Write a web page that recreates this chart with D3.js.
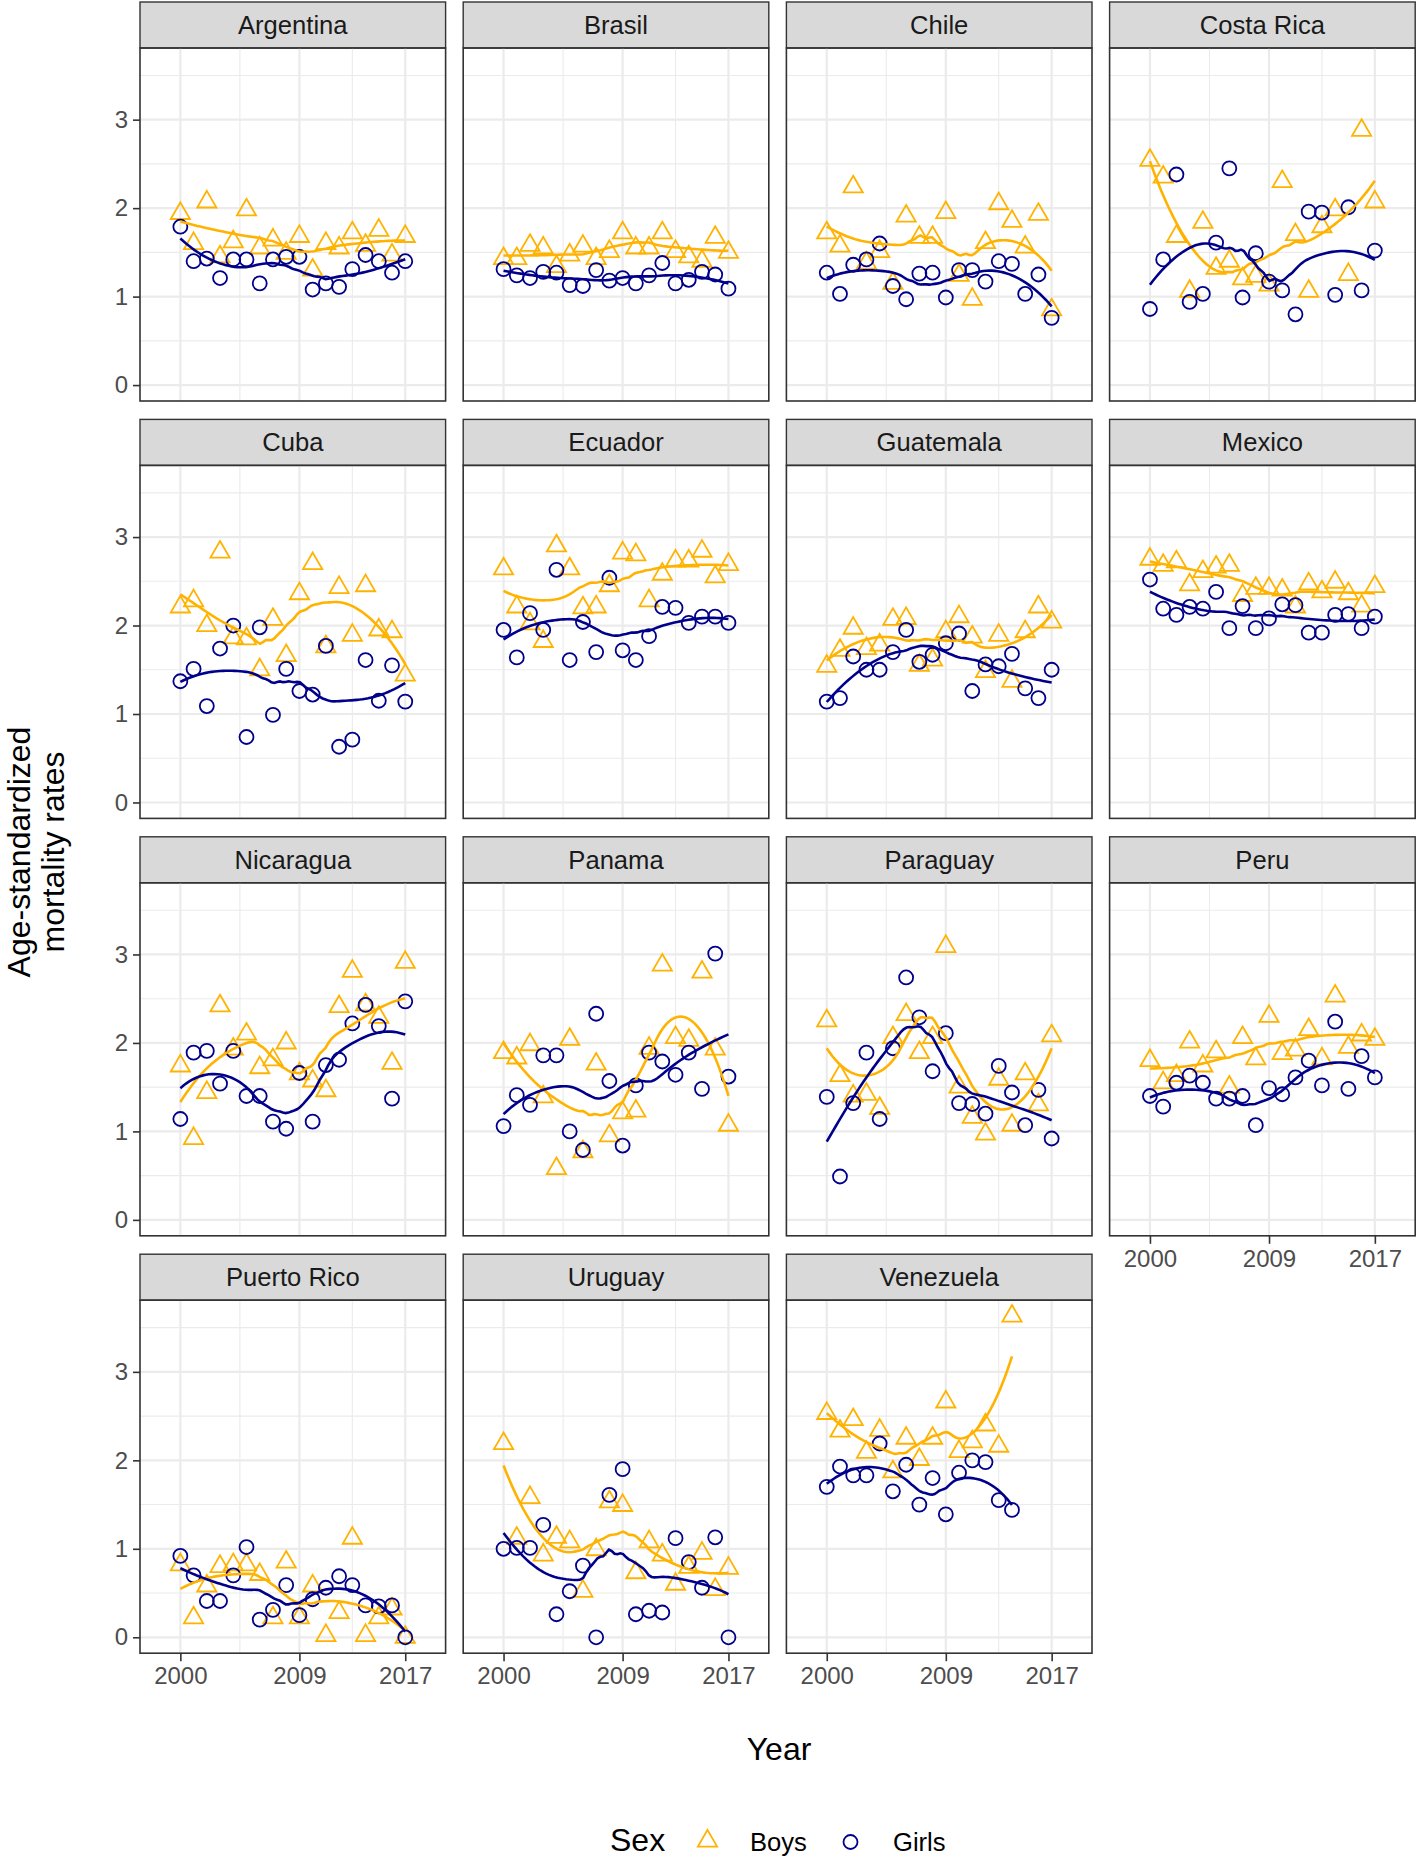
<!DOCTYPE html>
<html>
<head>
<meta charset="utf-8">
<script src="https://cdn.jsdelivr.net/npm/d3@7"></script>
<style>
  body { margin: 0; background: #fff; }
  text { font-family: "Liberation Sans", Arial, sans-serif; }
</style>
</head>
<body>
<svg id="chart" width="1418" height="1859"></svg>
<script>
// facet order, as in the figure
const countries = ["Argentina", "Brasil", "Chile", "Costa Rica",
                   "Cuba", "Ecuador", "Guatemala", "Mexico",
                   "Nicaragua", "Panama", "Paraguay", "Peru",
                   "Puerto Rico", "Uruguay", "Venezuela"];

const years = [2000, 2001, 2002, 2003, 2004, 2005, 2006, 2007, 2008,
               2009, 2010, 2011, 2012, 2013, 2014, 2015, 2016, 2017];

// age-standardized mortality rates, one row per country (same order as countries)
const boys = [
  [1.94,1.60,2.07,1.45,1.62,1.98,1.55,1.64,1.49,1.68,1.30,1.60,1.55,1.72,1.58,1.75,1.47,1.68], // Argentina
  [1.43,1.43,1.58,1.55,1.34,1.47,1.57,1.43,1.51,1.72,1.55,1.55,1.72,1.51,1.45,1.40,1.67,1.50], // Brasil
  [1.72,1.57,2.24,1.38,1.51,1.15,1.91,1.67,1.67,1.95,1.24,0.97,1.61,2.05,1.85,1.56,1.93,0.85], // Chile
  [2.54,2.35,1.68,1.06,1.84,1.32,1.40,1.20,1.23,1.13,2.30,1.70,1.06,1.79,1.98,1.25,2.88,2.07], // Costa Rica
  [2.21,2.28,2.00,2.83,1.86,1.85,1.50,2.07,1.66,2.36,2.70,1.76,2.43,1.89,2.45,1.95,1.93,1.44], // Cuba
  [2.64,2.21,2.02,1.82,2.90,2.64,2.20,2.21,2.45,2.82,2.80,2.28,2.58,2.73,2.73,2.84,2.55,2.69], // Ecuador
  [1.54,1.72,1.97,1.74,1.78,2.07,2.08,1.55,1.61,1.93,2.10,1.87,1.48,1.89,1.37,1.93,2.21,2.04], // Guatemala
  [2.75,2.68,2.72,2.46,2.61,2.66,2.68,2.34,2.42,2.42,2.40,2.21,2.47,2.38,2.49,2.36,2.22,2.44], // Mexico
  [1.74,0.92,1.44,2.42,1.93,2.10,1.72,1.81,2.00,1.65,1.57,1.46,2.41,2.81,2.43,2.29,1.77,2.91], // Nicaragua
  [1.89,1.83,1.98,1.39,0.58,2.04,0.77,1.76,0.95,1.21,1.23,1.94,2.88,2.06,2.03,2.80,1.93,1.07], // Panama
  [2.25,1.63,1.40,1.42,1.26,2.06,2.32,1.89,2.06,3.09,1.50,1.16,0.97,1.59,1.07,1.65,1.30,2.08], // Paraguay
  [1.80,1.55,1.63,2.01,1.74,1.90,1.50,2.06,1.82,2.30,1.88,1.92,2.15,1.82,2.53,1.95,2.09,2.04], // Peru
  [0.82,0.22,0.58,0.80,0.82,0.82,0.71,0.22,0.85,0.22,0.58,0.02,0.28,1.12,0.02,0.22,0.32,0.00], // Puerto Rico
  [2.19,1.12,1.58,0.93,1.13,1.08,0.52,0.99,1.53,1.49,0.73,1.08,0.93,0.60,0.79,0.95,0.54,0.78], // Uruguay
  [2.53,2.33,2.46,2.09,2.34,1.87,2.25,2.01,2.25,2.66,2.10,2.21,2.40,2.16,3.63]                 // Venezuela
];

const girls = [
  [1.79,1.40,1.43,1.21,1.42,1.42,1.15,1.42,1.45,1.45,1.08,1.15,1.11,1.31,1.47,1.40,1.27,1.40],
  [1.31,1.24,1.21,1.28,1.27,1.13,1.12,1.30,1.18,1.21,1.15,1.24,1.38,1.15,1.19,1.28,1.25,1.09],
  [1.27,1.03,1.36,1.42,1.60,1.12,0.97,1.26,1.27,0.99,1.30,1.30,1.17,1.40,1.37,1.03,1.25,0.76],
  [0.86,1.42,2.38,0.94,1.03,1.61,2.45,0.99,1.49,1.17,1.07,0.80,1.96,1.95,1.02,2.01,1.07,1.52],
  [1.37,1.51,1.09,1.74,2.00,0.74,1.98,0.99,1.51,1.26,1.22,1.77,0.63,0.71,1.61,1.15,1.55,1.14],
  [1.95,1.64,2.14,1.95,2.63,1.61,2.04,1.70,2.54,1.72,1.61,1.88,2.21,2.20,2.03,2.10,2.10,2.03],
  [1.14,1.18,1.65,1.50,1.50,1.70,1.95,1.59,1.67,1.80,1.91,1.26,1.56,1.54,1.68,1.29,1.18,1.50],
  [2.52,2.19,2.12,2.21,2.19,2.38,1.97,2.22,1.97,2.08,2.24,2.23,1.92,1.92,2.12,2.13,1.97,2.10],
  [1.14,1.89,1.91,1.54,1.91,1.40,1.40,1.11,1.03,1.66,1.11,1.75,1.81,2.22,2.43,2.19,1.37,2.47],
  [1.06,1.41,1.30,1.86,1.86,1.00,0.79,2.33,1.57,0.84,1.52,1.89,1.79,1.64,1.89,1.48,3.01,1.62],
  [1.39,0.49,1.32,1.89,1.14,1.94,2.74,2.29,1.68,2.11,1.32,1.31,1.20,1.74,1.44,1.07,1.47,0.92],
  [1.40,1.28,1.55,1.63,1.55,1.37,1.37,1.40,1.07,1.49,1.42,1.61,1.80,1.52,2.24,1.48,1.85,1.61],
  [0.92,0.70,0.41,0.41,0.70,1.02,0.20,0.31,0.59,0.25,0.43,0.56,0.69,0.59,0.36,0.35,0.36,0.00],
  [1.00,1.01,1.01,1.27,0.26,0.52,0.81,0.00,1.61,1.90,0.26,0.30,0.28,1.12,0.85,0.56,1.13,0.00],
  [1.70,1.93,1.83,1.83,2.19,1.65,1.95,1.50,1.80,1.39,1.86,2.00,1.98,1.55,1.44]
];

const sexLabels = ["Boys", "Girls"];
const xTicks = [2000, 2009, 2017];
const xMinor = [2004.5, 2013];
const yTicks = [0, 1, 2, 3];
const yMinor = [0.5, 1.5, 2.5, 3.5];

const colBoys = "#FFB300", colGirls = "#00008B";

// layout
const left0 = 140, colStep = 323.2, pw = 305.6;
const top0 = 2, rowStep = 417.4, stripH = 46, ph = 353;

const svg = d3.select("#chart");

const x = d3.scaleLinear().domain([1996.95, 2020.05]).range([0, pw]);
const y = d3.scaleLinear().domain([-0.18, 3.81]).range([ph, 0]);

// loess (degree 2, tricube weights) like geom_smooth
function loess(xs, ys, span, xout) {
  const n = xs.length, q = Math.floor(n * span + 1e-5);
  return xout.map(x0 => {
    const d = xs.map(v => Math.abs(v - x0));
    const h = d.slice().sort((a, b) => a - b)[q - 1] * 1.0001;
    const S = [[0,0,0],[0,0,0],[0,0,0]], b = [0,0,0];
    xs.forEach((xi, i) => {
      const u = d[i] / h;
      if (u >= 1) return;
      const w = Math.pow(1 - u * u * u, 3);
      const t = xi - x0, v = [1, t, t * t];
      for (let j = 0; j < 3; j++) {
        b[j] += w * v[j] * ys[i];
        for (let k = 0; k < 3; k++) S[j][k] += w * v[j] * v[k];
      }
    });
    // gaussian elimination
    const A = S.map((r, i) => r.concat([b[i]]));
    for (let c = 0; c < 3; c++) {
      let p = c;
      for (let r = c + 1; r < 3; r++) if (Math.abs(A[r][c]) > Math.abs(A[p][c])) p = r;
      [A[c], A[p]] = [A[p], A[c]];
      for (let r = c + 1; r < 3; r++) {
        const f = A[r][c] / A[c][c];
        for (let k = c; k < 4; k++) A[r][k] -= f * A[c][k];
      }
    }
    const sol = [0,0,0];
    for (let r = 2; r >= 0; r--) {
      let s = A[r][3];
      for (let k = r + 1; k < 3; k++) s -= A[r][k] * sol[k];
      sol[r] = s / A[r][r];
    }
    return [x0, sol[0]];
  });
}

const SPAN = 0.75;
const line = d3.line().x(d => x(d[0])).y(d => y(d[1])).curve(d3.curveLinear);
const tri = d3.symbol().type(d3.symbolTriangle).size(160);

countries.forEach((name, i) => {
  const col = i % 4, row = Math.floor(i / 4);
  const gx = left0 + col * colStep;
  const gy = top0 + row * rowStep;

  // strip
  svg.append("rect")
    .attr("x", gx).attr("y", gy).attr("width", pw).attr("height", stripH)
    .attr("fill", "#D9D9D9").attr("stroke", "#333333").attr("stroke-width", 1.4);
  svg.append("text")
    .attr("x", gx + pw / 2).attr("y", gy + 32)
    .attr("text-anchor", "middle")
    .attr("font-size", 25.6).attr("fill", "#1A1A1A")
    .text(name);

  const g = svg.append("g").attr("transform", `translate(${gx},${gy + stripH})`);

  // grid
  g.selectAll(".ymin").data(yMinor).enter().append("line")
    .attr("x1", 0).attr("x2", pw).attr("y1", d => y(d)).attr("y2", d => y(d))
    .attr("stroke", "#EBEBEB").attr("stroke-width", 1.1);
  g.selectAll(".xmin").data(xMinor).enter().append("line")
    .attr("y1", 0).attr("y2", ph).attr("x1", d => x(d)).attr("x2", d => x(d))
    .attr("stroke", "#EBEBEB").attr("stroke-width", 1.1);
  g.selectAll(".ymaj").data(yTicks).enter().append("line")
    .attr("x1", 0).attr("x2", pw).attr("y1", d => y(d)).attr("y2", d => y(d))
    .attr("stroke", "#EBEBEB").attr("stroke-width", 2.2);
  g.selectAll(".xmaj").data(xTicks).enter().append("line")
    .attr("y1", 0).attr("y2", ph).attr("x1", d => x(d)).attr("x2", d => x(d))
    .attr("stroke", "#EBEBEB").attr("stroke-width", 2.2);

  const bData = boys[i].map((v, k) => [years[k], v]);
  const gData = girls[i].map((v, k) => [years[k], v]);

  // points
  g.selectAll(".boy").data(bData).enter().append("path")
    .attr("d", tri)
    .attr("transform", d => `translate(${x(d[0])},${y(d[1])})`)
    .attr("fill", "none").attr("stroke", colBoys).attr("stroke-width", 1.8);
  g.selectAll(".girl").data(gData).enter().append("circle")
    .attr("cx", d => x(d[0])).attr("cy", d => y(d[1])).attr("r", 7)
    .attr("fill", "none").attr("stroke", colGirls).attr("stroke-width", 1.8);

  // smooth lines
  [[bData, colBoys], [gData, colGirls]].forEach(([data, c]) => {
    const xs = data.map(d => d[0]), ys = data.map(d => d[1]);
    const x0 = d3.min(xs), x1 = d3.max(xs);
    const grid = d3.range(80).map(k => x0 + (x1 - x0) * k / 79);
    g.append("path")
      .attr("d", line(loess(xs, ys, SPAN, grid)))
      .attr("fill", "none").attr("stroke", c).attr("stroke-width", 2.6);
  });

  // border
  g.append("rect").attr("width", pw).attr("height", ph)
    .attr("fill", "none").attr("stroke", "#333333").attr("stroke-width", 1.6);

  // y axis on first column
  if (col === 0) {
    const ya = g.append("g").call(d3.axisLeft(y).tickValues(yTicks).tickSize(7).tickPadding(5).tickFormat(d3.format("d")));
    ya.select(".domain").remove();
    ya.selectAll("line").attr("stroke", "#333333").attr("stroke-width", 1.6);
    ya.selectAll("text").attr("font-size", 24).attr("fill", "#4D4D4D")
      .attr("font-family", "Liberation Sans, Arial, sans-serif");
  }
  // x axis where no panel below
  if (i + 4 >= countries.length) {
    const xa = g.append("g").attr("transform", `translate(0,${ph})`)
      .call(d3.axisBottom(x).tickValues(xTicks).tickSize(8).tickPadding(6).tickFormat(d3.format("d")));
    xa.select(".domain").remove();
    xa.selectAll("line").attr("stroke", "#333333").attr("stroke-width", 1.6);
    xa.selectAll("text").attr("font-size", 24).attr("fill", "#4D4D4D")
      .attr("font-family", "Liberation Sans, Arial, sans-serif");
  }
});

// axis titles
svg.append("text")
  .attr("x", 779).attr("y", 1760)
  .attr("text-anchor", "middle").attr("font-size", 32).attr("fill", "#000")
  .text("Year");

const yt = svg.append("text")
  .attr("transform", "translate(0,852) rotate(-90)")
  .attr("text-anchor", "middle").attr("font-size", 32).attr("fill", "#000");
yt.append("tspan").attr("x", 0).attr("y", 30).text("Age-standardized");
yt.append("tspan").attr("x", 0).attr("y", 64).text("mortality rates");

// legend
const leg = svg.append("g");
leg.append("text").attr("x", 610).attr("y", 1851).attr("font-size", 32).attr("fill", "#000").text("Sex");
leg.append("path").attr("d", tri).attr("transform", "translate(707.5,1841)")
  .attr("fill", "none").attr("stroke", colBoys).attr("stroke-width", 1.8);
leg.append("text").attr("x", 750).attr("y", 1851).attr("font-size", 25.6).attr("fill", "#000").text(sexLabels[0]);
leg.append("circle").attr("cx", 850.5).attr("cy", 1842).attr("r", 7)
  .attr("fill", "none").attr("stroke", colGirls).attr("stroke-width", 1.8);
leg.append("text").attr("x", 893).attr("y", 1851).attr("font-size", 25.6).attr("fill", "#000").text(sexLabels[1]);
</script>
</body>
</html>
